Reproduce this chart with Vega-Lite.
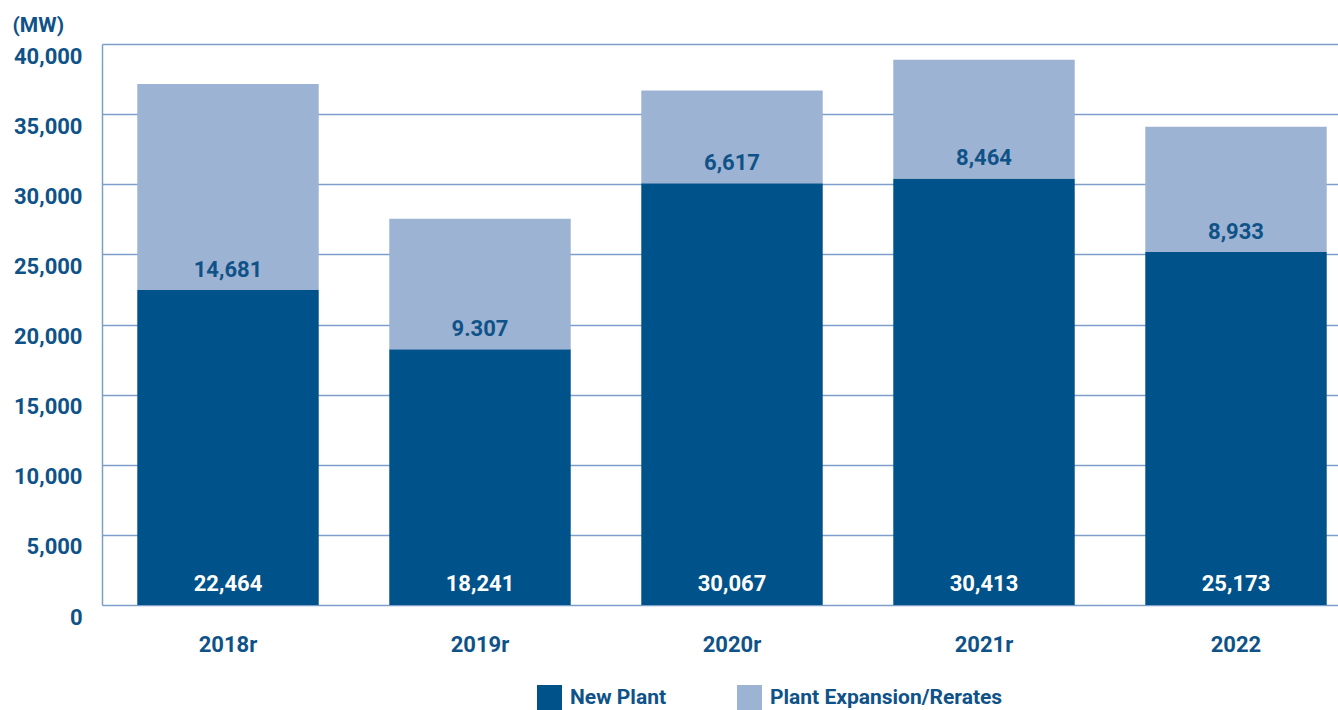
{
  "$schema": "https://vega.github.io/schema/vega-lite/v6.json",
  "autosize": {"type": "none"},
  "padding": {"left": 102, "top": 44, "right": 0, "bottom": 105},
  "width": 1260,
  "height": 561,
  "background": "white",
  "config": {
    "view": {"stroke": null},
    "font": "Roboto"
  },
  "data": {
    "values": [
      {"year": "2018r", "New Plant": 22464, "Plant Expansion/Rerates": 14681, "newLabel": "22,464", "expLabel": "14,681"},
      {"year": "2019r", "New Plant": 18241, "Plant Expansion/Rerates": 9307, "newLabel": "18,241", "expLabel": "9.307"},
      {"year": "2020r", "New Plant": 30067, "Plant Expansion/Rerates": 6617, "newLabel": "30,067", "expLabel": "6,617"},
      {"year": "2021r", "New Plant": 30413, "Plant Expansion/Rerates": 8464, "newLabel": "30,413", "expLabel": "8,464"},
      {"year": "2022", "New Plant": 25173, "Plant Expansion/Rerates": 8933, "newLabel": "25,173", "expLabel": "8,933"}
    ]
  },
  "encoding": {
    "x": {
      "field": "year",
      "type": "nominal",
      "sort": null,
      "scale": {"paddingInner": 0.28, "paddingOuter": 0.14},
      "axis": {
        "title": null,
        "labelAngle": 0,
        "domain": false,
        "ticks": false,
        "labelFont": "Roboto",
        "labelFontWeight": "bold",
        "labelFontSize": 22,
        "labelColor": "#0f5288",
        "labelPadding": 29
      }
    }
  },
  "layer": [
    {
      "transform": [{"fold": ["New Plant", "Plant Expansion/Rerates"], "as": ["type", "value"]}],
      "mark": {"type": "bar"},
      "encoding": {
        "y": {
          "field": "value",
          "type": "quantitative",
          "stack": "zero",
          "scale": {"domain": [0, 40000], "nice": false},
          "axis": {
            "values": [0, 5000, 10000, 15000, 20000, 25000, 30000, 35000, 40000],
            "format": ",d",
            "title": "(MW)",
            "titleAngle": 0,
            "titleAlign": "left",
            "titleBaseline": "top",
            "titleX": -90,
            "titleY": -30,
            "titleFont": "Roboto",
            "titleFontWeight": "bold",
            "titleFontSize": 21,
            "titleColor": "#0f5288",
            "labelFont": "Roboto",
            "labelFontWeight": "bold",
            "labelFontSize": 22,
            "labelColor": "#0f5288",
            "labelPadding": 20,
            "labelOffset": 12,
            "ticks": false,
            "domain": true,
            "domainColor": "#7d9ec9",
            "domainWidth": 1.5,
            "grid": true,
            "gridColor": "#7d9ec9",
            "gridWidth": 1.5,
            "gridOpacity": 1
          }
        },
        "color": {
          "field": "type",
          "type": "nominal",
          "scale": {"domain": ["New Plant", "Plant Expansion/Rerates"], "range": ["#00528a", "#9db3d3"]},
          "legend": {
            "title": null,
            "orient": "none",
            "direction": "horizontal",
            "legendX": 435,
            "legendY": 641,
            "symbolType": "square",
            "symbolSize": 625,
            "symbolStrokeWidth": 0,
            "symbolOpacity": 1,
            "labelFont": "Roboto",
            "labelFontWeight": "bold",
            "labelFontSize": 21,
            "labelLimit": 500,
            "labelColor": "#0f5288",
            "labelOffset": 8,
            "columnPadding": 70
          }
        },
        "order": {"field": "type", "sort": "ascending"}
      }
    },
    {
      "mark": {"type": "text", "baseline": "middle", "dy": -21, "font": "Roboto", "fontWeight": "bold", "fontSize": 22, "color": "white"},
      "encoding": {
        "y": {"datum": 0, "type": "quantitative"},
        "text": {"field": "newLabel"}
      }
    },
    {
      "mark": {"type": "text", "baseline": "middle", "dy": -20, "font": "Roboto", "fontWeight": "bold", "fontSize": 22, "color": "#0f5288"},
      "encoding": {
        "y": {"field": "New Plant", "type": "quantitative"},
        "text": {"field": "expLabel"}
      }
    }
  ]
}
